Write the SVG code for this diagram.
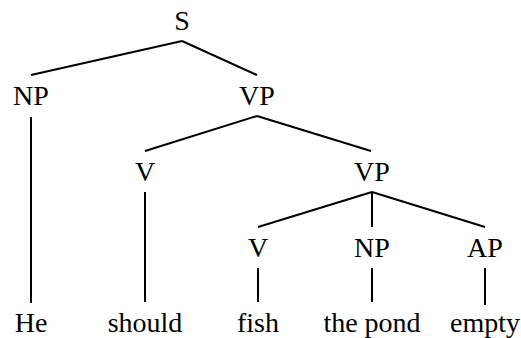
<svg xmlns="http://www.w3.org/2000/svg" width="521" height="338" viewBox="0 0 521 338">
<style>
line{stroke:#000;stroke-width:2;stroke-linecap:butt}
</style>
<rect width="521" height="338" fill="#fff"/>
<g id="connectors">
<line x1="182" y1="41" x2="31" y2="75"/>
<line x1="182" y1="41" x2="257" y2="75"/>
<line x1="31" y1="117" x2="31" y2="303"/>
<line x1="257" y1="116" x2="145" y2="151"/>
<line x1="257" y1="116" x2="371" y2="151"/>
<line x1="145" y1="192" x2="145" y2="302"/>
<line x1="372" y1="192" x2="258" y2="227"/>
<line x1="372" y1="192" x2="372" y2="227"/>
<line x1="372" y1="192" x2="485" y2="227"/>
<line x1="258" y1="268" x2="258" y2="302"/>
<line x1="372" y1="268" x2="372" y2="302"/>
<line x1="485" y1="268" x2="485" y2="305"/>
</g>
<g id="S"><text font-family="Liberation Serif" font-size="28" text-anchor="middle" x="182" y="30">S</text></g>
<g id="NP1"><text font-family="Liberation Serif" font-size="28" text-anchor="middle" x="31" y="105">NP</text></g>
<g id="VP1"><text font-family="Liberation Serif" font-size="28" text-anchor="middle" x="257" y="105">VP</text></g>
<g id="V1"><text font-family="Liberation Serif" font-size="28" text-anchor="middle" x="145" y="181">V</text></g>
<g id="VP2"><text font-family="Liberation Serif" font-size="28" text-anchor="middle" x="372" y="181">VP</text></g>
<g id="V2"><text font-family="Liberation Serif" font-size="28" text-anchor="middle" x="258" y="257">V</text></g>
<g id="NP2"><text font-family="Liberation Serif" font-size="28" text-anchor="middle" x="372" y="257">NP</text></g>
<g id="AP"><text font-family="Liberation Serif" font-size="28" text-anchor="middle" x="485" y="257">AP</text></g>
<g id="He"><text font-family="Liberation Serif" font-size="28" text-anchor="middle" x="31" y="332">He</text></g>
<g id="should"><text font-family="Liberation Serif" font-size="28" text-anchor="middle" x="145" y="332">should</text></g>
<g id="fish"><text font-family="Liberation Serif" font-size="28" text-anchor="middle" x="258" y="332">fish</text></g>
<g id="thepond"><text font-family="Liberation Serif" font-size="28" text-anchor="middle" x="372" y="332">the pond</text></g>
<g id="empty"><text font-family="Liberation Serif" font-size="28" text-anchor="middle" x="485" y="332">empty</text></g>
</svg>
